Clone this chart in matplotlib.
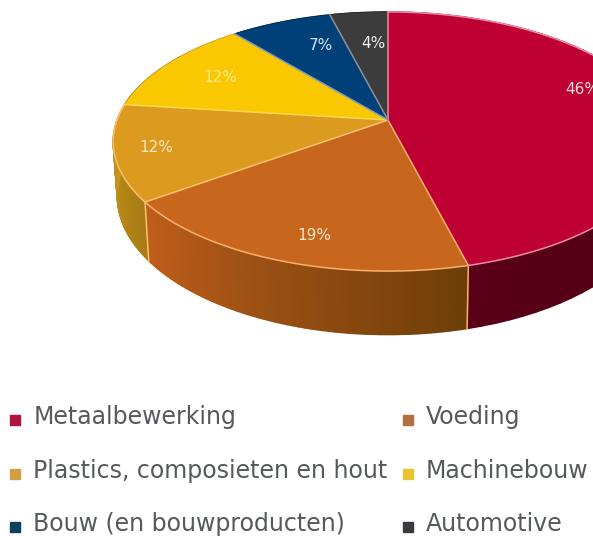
import numpy as np
import matplotlib
matplotlib.use("Agg")
import matplotlib.pyplot as plt
from matplotlib.lines import Line2D
from matplotlib.colors import to_rgb

categories = ["Metaalbewerking", "Voeding", "Plastics, composieten en hout",
              "Machinebouw", "Bouw (en bouwproducten)", "Automotive"]
values = [46, 19, 12, 12, 7, 4]
value_labels = ["46%", "19%", "12%", "12%", "7%", "4%"]

top_colors = ["#BE0032", "#C8661E", "#DC9B1E", "#FAC800", "#004078", "#3C3C3C"]
edge_colors = ["#F08AA8", "#F8B070", "#F8C070", "#FBD850", "#7E9CC0", "#909098"]
side_start = ["#3C0010", "#6E3E08", "#A87C14", "#A87C14", "#002040", "#222222"]
side_end = ["#5A0018", "#C05E1C", "#D09A1C", "#D09A1C", "#002040", "#222222"]
legend_colors = ["#B0143C", "#B07040", "#D49E40", "#E8C430", "#0F4060", "#3A3A3E"]
label_colors = ["#F4E0E0", "#F8E4C8", "#F8E8C0", "#FBE890", "#CFE4F4", "#F0F0F0"]
label_xy = [(582, 90), (314, 236), (156, 148), (220, 78), (321, 45), (373, 43)]

CX, CY, RX, RY, K, DEPTH = 388, 120, 271, 126, 0.166, 53


def project(frac):
    th = 2 * np.pi * np.asarray(frac)
    u, v = np.sin(th), np.cos(th)
    den = 1 + K * v
    return CX + RX * u / den, CY - RY * v / den, den


fig = plt.figure(figsize=(5.93, 5.36), dpi=100)
ax = fig.add_axes([0, 0, 1, 1])
ax.set_xlim(0, 593)
ax.set_ylim(536, 0)
ax.axis("off")

edges = np.cumsum([0] + values) / sum(values)

# side walls, with a colour gradient along each slice
for i in range(len(values)):
    fr = np.linspace(edges[i], edges[i + 1], 61)
    x, y, den = project(fr)
    xb = CX + (x - CX) * 0.985
    yb = y + DEPTH / den
    c0, c1 = np.array(to_rgb(side_start[i])), np.array(to_rgb(side_end[i]))
    for j in range(60):
        t = j / 59
        col = c0 * (1 - t) + c1 * t
        ax.fill([x[j], x[j + 1], xb[j + 1], xb[j]], [y[j], y[j + 1], yb[j + 1], yb[j]],
                color=col, lw=1.0, zorder=1)
    ax.plot([x[0], xb[0]], [y[0], yb[0]], color=edge_colors[i], lw=1.1, zorder=2)

# top surface
for i in range(len(values)):
    fr = np.linspace(edges[i], edges[i + 1], 121)
    x, y, _ = project(fr)
    ax.fill(np.r_[CX, x], np.r_[CY, y], color=top_colors[i], lw=0, zorder=3)
for i in range(len(values)):
    fr = np.linspace(edges[i], edges[i + 1], 121)
    x, y, _ = project(fr)
    ax.plot([CX, x[0]], [CY, y[0]], color=edge_colors[i], lw=1.1, zorder=4)
    if i < 3:
        ax.plot(x, y, color=edge_colors[i], lw=1.1, zorder=4)

for lab, (lx, ly), col in zip(value_labels, label_xy, label_colors):
    ax.text(lx, ly, lab, color=col, fontsize=11, ha="center", va="center",
            family="DejaVu Sans", zorder=5, clip_on=False)

order = [0, 2, 4, 1, 3, 5]
handles = [Line2D([], [], ls="", marker="s", ms=7.5, color=legend_colors[i],
                  label=categories[i]) for i in order]
leg = ax.legend(handles=handles, ncol=2, frameon=False, loc="lower left",
                bbox_to_anchor=(8 / 593, 0 / 536), bbox_transform=fig.transFigure,
                fontsize=17, labelcolor="#55585C", labelspacing=1.24,
                handlelength=0.6, handletextpad=0.47, columnspacing=0.55,
                borderpad=0, borderaxespad=0)
for h in leg.legend_handles:
    h.set_ydata(np.asarray(h.get_ydata()) - 3)
fig.savefig("out.png", dpi=100)
